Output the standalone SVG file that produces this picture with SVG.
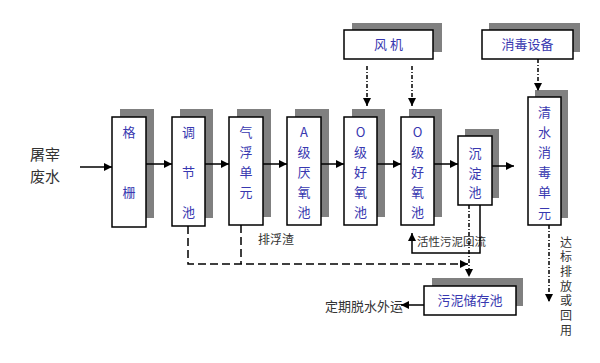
<svg xmlns="http://www.w3.org/2000/svg" width="600" height="363" viewBox="0 0 600 363">
<style>
.sh{fill:#808080}
.bx{fill:#fff;stroke:#000;stroke-width:1.5}
.t{font-family:"Noto Sans CJK SC","Noto Sans",sans-serif;font-size:13px;fill:#3838b0;text-anchor:middle}
.l{font-family:"Noto Sans CJK SC","Noto Sans",sans-serif;fill:#333;}
.ln{stroke:#000;stroke-width:1.5;fill:none}
.dd{stroke:#000;stroke-width:1.5;fill:none;stroke-dasharray:4 2 1 2}
.ds{stroke:#000;stroke-width:1.5;fill:none;stroke-dasharray:8 4}
</style>
<defs>
<marker id="ar" viewBox="0 0 10 10" refX="10" refY="5" markerWidth="8" markerHeight="8" markerUnits="userSpaceOnUse" orient="auto">
<path d="M0,0 L10,5 L0,10 z" fill="#000"/>
</marker>
</defs>
<rect width="600" height="363" fill="#fff"/>
<g id="input">
<text class="l" x="45" y="160" font-size="15" text-anchor="middle">屠宰</text>
<text class="l" x="45" y="182" font-size="15" text-anchor="middle">废水</text>
</g>
<g id="n1"><rect class="sh" x="120" y="109" width="34" height="109"/><rect class="bx" x="112" y="117" width="34" height="110"/>
<text class="t" x="129" y="137">格</text><text class="t" x="129" y="197">栅</text></g>
<g id="n2"><rect class="sh" x="180" y="109" width="33" height="109"/><rect class="bx" x="172" y="117" width="33" height="109"/>
<text class="t" x="188.5" y="137">调</text><text class="t" x="188.5" y="177">节</text><text class="t" x="188.5" y="217">池</text></g>
<g id="n3"><rect class="sh" x="237" y="109" width="34" height="108"/><rect class="bx" x="229" y="117" width="34" height="108"/>
<text class="t" x="246" y="137">气</text><text class="t" x="246" y="157">浮</text><text class="t" x="246" y="177">单</text><text class="t" x="246" y="197">元</text></g>
<g id="n4"><rect class="sh" x="295" y="109" width="34" height="108"/><rect class="bx" x="287" y="117" width="34" height="108"/>
<text class="t" x="304" y="137">A</text><text class="t" x="304" y="157">级</text><text class="t" x="304" y="177">厌</text><text class="t" x="304" y="197">氧</text><text class="t" x="304" y="217">池</text></g>
<g id="n5"><rect class="sh" x="352" y="109" width="33" height="108"/><rect class="bx" x="344" y="117" width="33" height="108"/>
<text class="t" x="360.5" y="137">O</text><text class="t" x="360.5" y="157">级</text><text class="t" x="360.5" y="177">好</text><text class="t" x="360.5" y="197">氧</text><text class="t" x="360.5" y="217">池</text></g>
<g id="n6"><rect class="sh" x="409" y="109" width="33" height="108"/><rect class="bx" x="401" y="117" width="33" height="108"/>
<text class="t" x="417.5" y="137">O</text><text class="t" x="417.5" y="157">级</text><text class="t" x="417.5" y="177">好</text><text class="t" x="417.5" y="197">氧</text><text class="t" x="417.5" y="217">池</text></g>
<g id="n7"><rect class="sh" x="465" y="129" width="34" height="69"/><rect class="bx" x="458" y="136" width="34" height="69"/>
<text class="t" x="475" y="158">沉</text><text class="t" x="475" y="178">淀</text><text class="t" x="475" y="197">池</text></g>
<g id="n8"><rect class="sh" x="535" y="90" width="33" height="128"/><rect class="bx" x="528" y="97" width="33" height="128"/>
<text class="t" x="544.5" y="117">清</text><text class="t" x="544.5" y="137">水</text><text class="t" x="544.5" y="157">消</text><text class="t" x="544.5" y="177">毒</text><text class="t" x="544.5" y="197">单</text><text class="t" x="544.5" y="218">元</text></g>
<g id="fan"><rect class="sh" x="352" y="23" width="90" height="29"/><rect class="bx" x="344" y="30" width="89" height="29"/>
<text class="t" x="388.5" y="49">风 机</text></g>
<g id="dis"><rect class="sh" x="489" y="23" width="91" height="29"/><rect class="bx" x="482" y="30" width="91" height="29"/>
<text class="t" x="527.5" y="49">消毒设备</text></g>
<g id="sludge"><rect class="sh" x="432" y="278" width="91" height="28"/><rect class="bx" x="424" y="286" width="92" height="29"/>
<text class="t" x="470" y="305">污泥储存池</text></g>
<g id="labels">
<text class="l" x="258" y="244" font-size="12">排浮渣</text>
<text class="l" x="417" y="246" font-size="11.5">活性污泥回流</text>
<text class="l" x="325" y="311" font-size="13">定期脱水外运</text>
<text class="l" x="566" y="236" font-size="12" letter-spacing="2.7" style="writing-mode:vertical-rl">达标排放或回用</text>
</g>
<g id="connectors">
<line class="ln" x1="80" y1="167" x2="112" y2="167" marker-end="url(#ar)"/>
<line class="ln" x1="146" y1="164" x2="172" y2="164" marker-end="url(#ar)"/>
<line class="ln" x1="205" y1="164" x2="229" y2="164" marker-end="url(#ar)"/>
<line class="ln" x1="263" y1="164" x2="287" y2="164" marker-end="url(#ar)"/>
<line class="ln" x1="321" y1="164" x2="344" y2="164" marker-end="url(#ar)"/>
<line class="ln" x1="377" y1="164" x2="401" y2="164" marker-end="url(#ar)"/>
<line class="ln" x1="434" y1="164" x2="458" y2="164" marker-end="url(#ar)"/>
<line class="ln" x1="492" y1="166" x2="514" y2="166" marker-end="url(#ar)"/>
<line class="dd" x1="367" y1="66" x2="367" y2="106" marker-end="url(#ar)"/>
<line class="dd" x1="412" y1="66" x2="412" y2="106" marker-end="url(#ar)"/>
<line class="dd" x1="538" y1="59" x2="538" y2="91" marker-end="url(#ar)"/>
<line class="dd" x1="549" y1="225" x2="549" y2="302" marker-end="url(#ar)"/>
<line class="dd" x1="469" y1="205" x2="469" y2="277" marker-end="url(#ar)"/>
<path class="ds" d="M188,226 V264 H468" marker-end="url(#ar)"/>
<line class="ds" x1="241" y1="225" x2="241" y2="264"/>
<path class="ln" d="M480,205 V253 H412 V233" marker-end="url(#ar)"/>
<line class="ln" x1="424" y1="305" x2="401" y2="305" marker-end="url(#ar)"/>
</g>
</svg>
